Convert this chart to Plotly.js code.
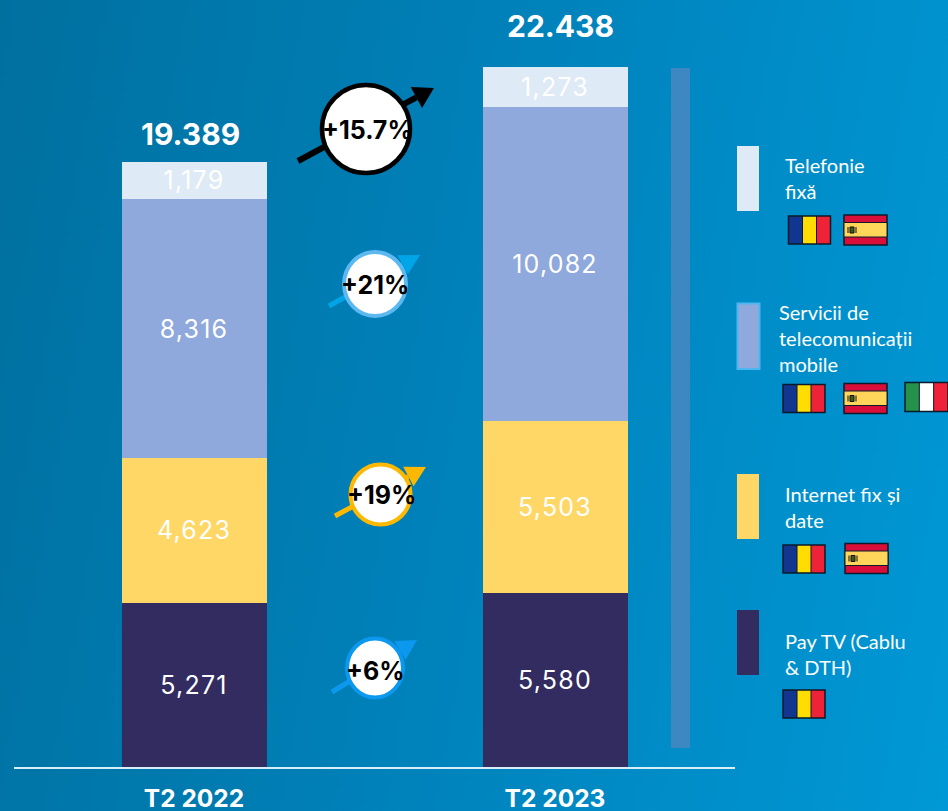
<!DOCTYPE html>
<html><head><meta charset="utf-8">
<script src="https://cdn.plot.ly/plotly-3.0.0.min.js"></script>
<style>
html,body{margin:0;padding:0;width:948px;height:811px;overflow:hidden;background:linear-gradient(100deg,#00709f 0%,#0080b8 45%,#0098d6 100%);}
#c{width:948px;height:811px;}
.bartext{letter-spacing:1.2px;}
</style></head><body><div id="c"></div>
<script>
const periods = ['T2 2022','T2 2023'];
const payTv = [5271,5580];
const internet = [4623,5503];
const mobile = [8316,10082];
const fixed = [1179,1273];
const totalLabels = ['19.389','22.438'];
const totals = [19389,22438];
const growth = ['+15.7%','+21%','+19%','+6%'];
const legendNames = ['Telefonie<br>fixă','Servicii de<br>telecomunicații<br>mobile','Internet fix și<br>date','Pay TV (Cablu<br>& DTH)'];

const W=948,H=767,FONT='Lato, "Open Sans", sans-serif',NUM='Inter, Lato, sans-serif';
const px=x=>x/W, py=y=>1-y/H;
const fmt=v=>v.toLocaleString('en-US');
function rect(x0,y0,x1,y1,fill,line,lw){return {type:'rect',xref:'paper',yref:'paper',x0:px(x0),x1:px(x1),y0:py(y0),y1:py(y1),fillcolor:fill,line:{color:line||fill,width:line?(lw||1):0},layer:'above'};}
function circle(cx,cy,rx,ry,color,lw){return {type:'circle',xref:'paper',yref:'paper',x0:px(cx-rx),x1:px(cx+rx),y0:py(cy+ry),y1:py(cy-ry),fillcolor:'#ffffff',line:{color:color,width:lw},layer:'above'};}
function arrow(x0,y0,x1,y1,color,lw,hl,hw){
  const d=Math.hypot(x1-x0,y1-y0),ux=(x1-x0)/d,uy=(y1-y0)/d,nx=-uy,ny=ux;
  const bx=x1-ux*hl,by=y1-uy*hl;
  const P=(x,y)=>px(x).toFixed(5)+','+py(y).toFixed(5);
  return [
    {type:'line',xref:'paper',yref:'paper',x0:px(x0),y0:py(y0),x1:px(bx),y1:py(by),line:{color:color,width:lw},layer:'above'},
    {type:'path',xref:'paper',yref:'paper',path:'M'+P(x1,y1)+' L'+P(bx+nx*hw,by+ny*hw)+' L'+P(bx-nx*hw,by-ny*hw)+' Z',fillcolor:color,line:{color:color,width:0},layer:'above'}
  ];
}
const vl=(x,y0,y1)=>({type:'line',xref:'paper',yref:'paper',x0:px(x),x1:px(x),y0:py(y0),y1:py(y1),line:{color:'#0b1a2a',width:1},layer:'above'});
function ro(x,y){const w=42,h=28,s=w/3;return [rect(x,y,x+s,y+h,'#12368f'),rect(x+s,y,x+2*s,y+h,'#ffdd00'),rect(x+2*s,y,x+w,y+h,'#ef2338'),rect(x,y,x+w,y+h,'rgba(0,0,0,0)','#0b1a2a',1.5),vl(x+s,y,y+h),vl(x+2*s,y,y+h)];}
function it(x,y){const w=43,h=29,s=w/3;return [rect(x,y,x+s,y+h,'#24924a'),rect(x+s,y,x+2*s,y+h,'#ffffff'),rect(x+2*s,y,x+w,y+h,'#ef2338'),rect(x,y,x+w,y+h,'rgba(0,0,0,0)','#0b1a2a',1.5),vl(x+s,y,y+h),vl(x+2*s,y,y+h)];}
function es(x,y){const w=43,h=30;return [rect(x,y,x+w,y+h,'#d90f3a','#0b1a2a',1.5),rect(x,y+7.5,x+w,y+22,'#ffd65a','#0b1a2a',1),
  rect(x+6,y+12,x+10,y+18,'#3d5a1e','#111111',1),rect(x+3.5,y+12,x+4.5,y+18,'#111111'),rect(x+11.5,y+12,x+12.5,y+18,'#111111')];}

const mk=(name,y,color)=>({type:'bar',name,x:periods,y,text:y.map(fmt),textposition:'inside',insidetextanchor:'middle',textangle:0,
  textfont:{family:NUM,size:25,color:'#ffffff'},constraintext:'none',marker:{color,line:{width:0}},width:145/361,hoverinfo:'name+y',cliponaxis:false});
const traces=[mk('Pay TV',payTv,'#332c60'),mk('Internet fix și date',internet,'#ffd766'),mk('Servicii mobile',mobile,'#8fa9dc'),mk('Telefonie fixă',fixed,'#deeaf5')];

let shapes=[
  rect(671,68,690,748,'#3d87c2'),
  {type:'line',xref:'paper',yref:'paper',x0:px(14),x1:px(735),y0:py(768),y1:py(768),line:{color:'#d9eef8',width:2},layer:'above'},
  rect(737,146,759,211,'#deeaf5'),
  rect(737.5,303.5,759.5,369,'#8fa9dc','#4db5f0',2),
  rect(737,474,759,539,'#ffd766'),
  rect(737,610,759,675,'#332c60')
];
shapes=shapes.concat(
  ro(788.5,216),es(844,215),
  ro(783,384.5),es(844,383.5),it(905,382.5),
  ro(783,545),es(845,543.5),
  ro(783,690)
);
shapes=shapes.concat(
  arrow(298,161,434,88,'#000000',6,20,12), [circle(366,129,44,44,'#000000',4.5)],
  arrow(329,306,420,255,'#00a5e8',5,20,11), [circle(375,284,31,32,'#5cb8f0',4)],
  arrow(335,516,426,467,'#ffb800',5,20,11), [circle(380.5,494.5,30,30,'#ffb800',4)],
  arrow(332,692,417,640,'#0b98ee',5,20,11), [circle(375,668,28,29.5,'#0b98ee',4)]
).flat();

const pxNote=(x,y,text,o)=>Object.assign({xref:'paper',yref:'paper',x:px(x),y:py(y),text,showarrow:false,xanchor:'left',yanchor:'middle',font:{family:FONT,size:20,color:'#ffffff'}},o||{});
const B={family:NUM,size:25,color:'#000000'};
const annotations=[
  {x:periods[0],y:totals[0],xref:'x',yref:'y',text:'<b>'+totalLabels[0]+'</b>',showarrow:false,yanchor:'bottom',yshift:8,xshift:-3.5,font:{family:NUM,size:30,color:'#ffffff'}},
  {x:periods[1],y:totals[1],xref:'x',yref:'y',text:'<b>'+totalLabels[1]+'</b>',showarrow:false,yanchor:'bottom',yshift:21,xshift:5.5,font:{family:NUM,size:30,color:'#ffffff'}},
  pxNote(367.5,130,'<b>'+growth[0]+'</b>',{xanchor:'center',font:B}),
  pxNote(375,285,'<b>'+growth[1]+'</b>',{xanchor:'center',font:B}),
  pxNote(381,495,'<b>'+growth[2]+'</b>',{xanchor:'center',font:B}),
  pxNote(375,671,'<b>'+growth[3]+'</b>',{xanchor:'center',font:B}),
  pxNote(783,178,legendNames[0],{align:'left'}),
  pxNote(777,338,legendNames[1],{align:'left'}),
  pxNote(783,507,legendNames[2],{align:'left'}),
  pxNote(783,654,legendNames[3],{align:'left'})
];

const layout={width:948,height:811,margin:{l:0,r:0,t:0,b:44},barmode:'stack',showlegend:false,
  paper_bgcolor:'rgba(0,0,0,0)',plot_bgcolor:'rgba(0,0,0,0)',
  xaxis:{type:'category',range:[-194/361,(948-194)/361],tickvals:periods,ticktext:periods.map(p=>'<b>'+p+'</b>'),showgrid:false,zeroline:false,showline:false,ticks:'',
    tickfont:{family:NUM,size:24.5,color:'#ffffff'},ticklabelstandoff:14},
  yaxis:{range:[0,767/0.0312],visible:false,showgrid:false,zeroline:false},
  shapes,annotations};
Plotly.newPlot('c',traces,layout,{displayModeBar:false,staticPlot:true});
</script></body></html>
